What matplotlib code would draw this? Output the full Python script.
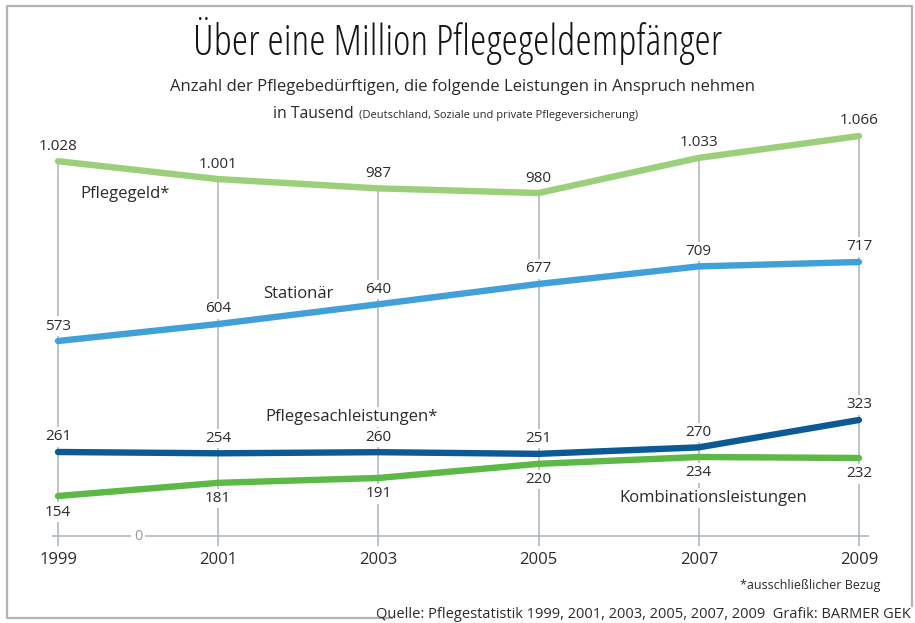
import numpy as np
import matplotlib
matplotlib.use("Agg")
import matplotlib.pyplot as plt
from matplotlib.lines import Line2D

years = [1999, 2001, 2003, 2005, 2007, 2009]
pflegegeld = [1028, 1001, 987, 980, 1033, 1066]
stationaer = [573, 604, 640, 677, 709, 717]
sachleistungen = [261, 254, 260, 251, 270, 323]
kombination = [154, 181, 191, 220, 234, 232]

pflegegeld_labels = ["1.028", "1.001", "987", "980", "1.033", "1.066"]

# the original y axis is drawn by hand and is not linear, so a piecewise scale
anchor_vals = [-400, 0, 154, 234, 261, 323, 573, 717, 980, 1066, 2000]
anchor_units = [-104, 0, 40, 79, 84, 116, 195, 274, 343, 400, 1019]


def forward(v):
    return np.interp(v, anchor_vals, anchor_units)


def inverse(u):
    return np.interp(u, anchor_units, anchor_vals)


W, H = 915, 623
fig = plt.figure(figsize=(W / 100, H / 100), dpi=100)
ax = fig.add_axes([0, 0, 1, 1])
ax.set_yscale("function", functions=(forward, inverse))
# x: 1999 at 58px, 2009 at 859px ; y: value 0 at 536px from top
px_per_year = 801 / 10
ax.set_xlim(1999 - 58 / px_per_year, 1999 + (W - 58) / px_per_year)
ax.set_ylim(inverse(536 - H), inverse(536))
ax.axis("off")

body = ["Open Sans", "DejaVu Sans"]
txt = "#2b2b2b"
grid_c = "#a9b3bb"

# vertical guide lines and zero line
ax.vlines(years, -40, pflegegeld, color=grid_c, lw=1.1, zorder=1)
ax.hlines(0, 1998.93, 2009.12, color=grid_c, lw=1.1, zorder=1)
ax.text(2000, 0, "0", ha="center", va="center", fontsize=10.5, color="#999999",
        family=body, zorder=2,
        bbox=dict(facecolor="white", edgecolor="none", pad=2))

series = [
    (pflegegeld, pflegegeld_labels, "#9bcf7a", 15),
    (stationaer, [str(v) for v in stationaer], "#42a0d8", 15),
    (sachleistungen, [str(v) for v in sachleistungen], "#0b5a96", 15),
    (kombination, [str(v) for v in kombination], "#5cb946", -16),
]

for values, labels, color, off in series:
    ax.plot(years, values, color=color, lw=4.6, solid_capstyle="round",
            solid_joinstyle="round", zorder=4)
    for x, v, lab in zip(years, values, labels):
        ax.annotate(lab, (x, v), xytext=(0, off), textcoords="offset pixels",
                    ha="center", va="center", fontsize=11, color=txt,
                    family=body, zorder=3,
                    bbox=dict(facecolor="white", edgecolor="none", pad=1.5))

# series names
name_kw = dict(fontsize=12, color=txt, family=body, va="center", zorder=3,
               bbox=dict(facecolor="white", edgecolor="none", pad=1.5))
ax.annotate("Pflegegeld*", (1999, 1028), xytext=(22, -33),
            textcoords="offset pixels", ha="left", **name_kw)
ax.annotate("Stationär", (2003, 640), xytext=(-80, 10),
            textcoords="offset pixels", ha="center", **name_kw)
ax.annotate("Pflegesachleistungen*", (2003, 260), xytext=(-27, 35),
            textcoords="offset pixels", ha="center", **name_kw)
ax.annotate("Kombinationsleistungen", (2007, 234), xytext=(14, -41),
            textcoords="offset pixels", ha="center", **name_kw)

for x in years:
    ax.annotate(str(x), (x, 0), xytext=(0, -24), textcoords="offset pixels",
                ha="center", va="center", fontsize=12, color=txt, family=body)

# titles and notes
fig.text(458 / W, 1 - 55 / H, "Über eine Million Pflegegeldempfänger",
         ha="center", va="baseline", fontsize=30, color="#151515",
         family=body, fontstretch="condensed", fontweight=500)
fig.text(462 / W, 1 - 91 / H,
         "Anzahl der Pflegebedürftigen, die folgende Leistungen in Anspruch nehmen",
         ha="center", va="baseline", fontsize=12, color=txt, family=body)
fig.text(273 / W, 1 - 118 / H, "in Tausend", ha="left", va="baseline",
         fontsize=11.3, color=txt, family=body)
fig.text(359 / W, 1 - 118 / H,
         "(Deutschland, Soziale und private Pflegeversicherung)",
         ha="left", va="baseline", fontsize=8, color=txt, family=body)
fig.text(880 / W, 1 - 586 / H, "*ausschließlicher Bezug", ha="right",
         va="center", fontsize=9, color=txt, family=body)
fig.text(911 / W, 1 - 614 / H,
         "Quelle: Pflegestatistik 1999, 2001, 2003, 2005, 2007, 2009  Grafik: BARMER GEK",
         ha="right", va="center", fontsize=10.5, color=txt, family=body)

# frame around the graphic, open where the source line sits
bx = np.array([392, 7, 7, 912, 912])
by = np.array([618, 618, 6, 6, 606])
fig.add_artist(Line2D(bx / W, 1 - by / H, color="#b3b3b3", lw=1.6,
                      transform=fig.transFigure))

fig.savefig("out.png", dpi=100, facecolor="white")
